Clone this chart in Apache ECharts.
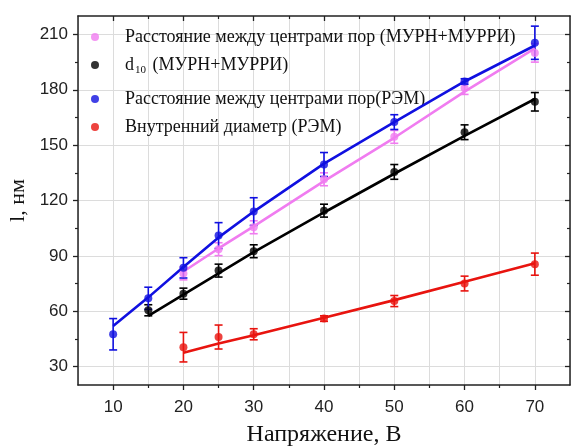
<!DOCTYPE html>
<html>
<head>
<meta charset="utf-8">
<script src="https://cdn.jsdelivr.net/npm/echarts@6/dist/echarts.min.js"></script>
<style>html,body{margin:0;padding:0;background:#fff}#c{width:576px;height:446px}</style>
</head>
<body>
<div id="c"></div>
<script>
// ---- data ----
const namePink  = 'Расстояние между центрами пор (МУРН+МУРРИ)';
const nameBlack = 'd10 (МУРН+МУРРИ)';
const nameBlue  = 'Расстояние между центрами пор(РЭМ)';
const nameRed   = 'Внутренний диаметр (РЭМ)';

const xPink   = [20, 25, 30, 40, 50, 60, 70];
const yPink   = [80.5, 93.6, 105.5, 131.5, 154.5, 181, 200];
const ePink   = [3.5, 3.5, 3.5, 3.5, 3.5, 3.5, 5];
const fitPink = [81.5, 94, 106, 130.5, 154, 179, 202.5];

const xBlack   = [15, 20, 25, 30, 40, 50, 60, 70];
const yBlack   = [60.5, 69.5, 82, 92.5, 114.5, 135.5, 157, 173.5];
const eBlack   = [3, 3, 3.5, 3.5, 3.5, 4, 4, 5];
const fitBlack = [57.5, 69, 80.5, 92, 113.5, 134.5, 155, 175];

const xBlue   = [10, 15, 20, 25, 30, 40, 50, 60, 70];
const yBlue   = [47.5, 67, 83.5, 101, 114, 139.5, 162.5, 184.5, 205.5];
const eBlue   = [8.5, 6, 5.5, 7, 7.5, 6.5, 4, 1.5, 9];
const fitBlue = [52, 67.5, 84, 100, 114, 140, 162.5, 184.5, 204];

const xRed   = [20, 25, 30, 40, 50, 60, 70];
const yRed   = [40.5, 46, 47.5, 56, 65.5, 75, 85.5];
const eRed   = [8, 6.5, 3, 1.5, 3, 4, 6];
const fitRed = [37.5, 42.5, 47, 56.5, 66, 76, 86];

const xMajor = [10, 20, 30, 40, 50, 60, 70];
const xMinor = [15, 25, 35, 45, 55, 65];
const yMajor = [30, 60, 90, 120, 150, 180, 210];
const yMinor = [45, 75, 105, 135, 165, 195];

// ---- build ----
const colPink = '#f07cf0', colBlack = '#000000', colBlue = '#1010e0', colRed = '#e8140f';
const serif = '"Liberation Serif","Times New Roman",serif';
const sans = '"Liberation Sans",Arial,sans-serif';
const G = {left: 78, right: 6, top: 16, bottom: 61, containLabel: false, outerBoundsMode: 'none'};
const lineC = '#222';

function pts(xs, ys) { return xs.map((x, i) => [x, ys[i]]); }
function errs(xs, ys, es) { return xs.map((x, i) => [x, ys[i] - es[i], ys[i] + es[i]]); }

function errSeries(name, xs, ys, es, color) {
  return {
    type: 'custom', name: name, xAxisIndex: 0, yAxisIndex: 0,
    data: errs(xs, ys, es), z: 3,
    renderItem: function (params, api) {
      const x = api.value(0);
      const lo = api.coord([x, api.value(1)]);
      const hi = api.coord([x, api.value(2)]);
      const w = 4;
      const st = {stroke: color, lineWidth: 1.6};
      return {type: 'group', children: [
        {type: 'line', shape: {x1: lo[0], y1: lo[1], x2: hi[0], y2: hi[1]}, style: st},
        {type: 'line', shape: {x1: lo[0] - w, y1: lo[1], x2: lo[0] + w, y2: lo[1]}, style: st},
        {type: 'line', shape: {x1: hi[0] - w, y1: hi[1], x2: hi[0] + w, y2: hi[1]}, style: st}
      ]};
    },
    silent: true
  };
}
function fitSeries(name, xs, ys, color) {
  return {type: 'line', name: name + ' fit', data: pts(xs, ys), showSymbol: false, symbol: 'none',
    lineStyle: {color: color, width: 2.6}, itemStyle: {color: color}, z: 4, silent: true};
}
function dotSeries(name, xs, ys, color) {
  return {type: 'scatter', name: name, data: pts(xs, ys), symbol: 'circle', symbolSize: 8,
    itemStyle: {color: color}, z: 5};
}

const legendNames = [namePink, nameBlack, nameBlue, nameRed];
const legendTops = [23, 51, 85, 113];

const option = {
  animation: false,
  backgroundColor: '#fff',
  grid: [G, G, G].map(g => Object.assign({}, g)),
  xAxis: [
    {gridIndex: 0, type: 'value', position: 'bottom', min: 5, max: 75, interval: 5,
      axisLine: {show: true, lineStyle: {color: lineC, width: 1.5}},
      axisTick: {show: false}, axisLabel: {show: false},
      splitLine: {show: true, lineStyle: {color: '#dcdcdc', width: 1}},
      name: 'Напряжение, В', nameLocation: 'middle', nameGap: 38,
      nameTextStyle: {fontFamily: serif, fontSize: 24, color: '#111'}},
    {gridIndex: 0, type: 'value', position: 'top', min: 5, max: 75, interval: 5,
      axisLine: {show: true, onZero: false, lineStyle: {color: lineC, width: 1.5}},
      axisTick: {show: true, inside: true, length: 5, customValues: xMajor, lineStyle: {color: lineC, width: 1.3}},
      axisLabel: {show: false}, splitLine: {show: false}},
    {gridIndex: 1, type: 'value', position: 'bottom', min: 5, max: 75, interval: 5,
      axisLine: {show: false},
      axisTick: {show: true, inside: false, length: 5, customValues: xMajor, lineStyle: {color: lineC, width: 1.3}},
      axisLabel: {show: true, customValues: xMajor, margin: 14, fontFamily: sans, fontSize: 17, color: '#222'},
      splitLine: {show: false}},
    {gridIndex: 1, type: 'value', position: 'top', min: 5, max: 75, interval: 5,
      axisLine: {show: false},
      axisTick: {show: true, inside: true, length: 3, customValues: xMinor, lineStyle: {color: lineC, width: 1.2}},
      axisLabel: {show: false}, splitLine: {show: false}},
    {gridIndex: 2, type: 'value', position: 'bottom', min: 5, max: 75, interval: 5,
      axisLine: {show: false},
      axisTick: {show: true, inside: false, length: 3, customValues: xMinor, lineStyle: {color: lineC, width: 1.2}},
      axisLabel: {show: false}, splitLine: {show: false}}
  ],
  yAxis: [
    {gridIndex: 0, type: 'value', position: 'left', min: 20, max: 220,
      axisLine: {show: true, onZero: false, lineStyle: {color: lineC, width: 1.5}},
      axisTick: {show: true, inside: false, length: 5, customValues: yMajor, lineStyle: {color: lineC, width: 1.3}},
      axisLabel: {show: true, customValues: yMajor, margin: 10, fontFamily: sans, fontSize: 17, color: '#222'},
      splitLine: {show: true, lineStyle: {color: '#dcdcdc', width: 1}},
      name: 'l, нм', nameLocation: 'middle', nameGap: 44, nameRotate: 90,
      nameTextStyle: {fontFamily: serif, fontSize: 22, color: '#111'}},
    {gridIndex: 0, type: 'value', position: 'right', min: 20, max: 220,
      axisLine: {show: true, onZero: false, lineStyle: {color: lineC, width: 1.5}},
      axisTick: {show: true, inside: true, length: 5, customValues: yMajor, lineStyle: {color: lineC, width: 1.3}},
      axisLabel: {show: false}, splitLine: {show: false}},
    {gridIndex: 1, type: 'value', position: 'left', min: 20, max: 220,
      axisLine: {show: false},
      axisTick: {show: true, inside: false, length: 3, customValues: yMinor, lineStyle: {color: lineC, width: 1.2}},
      axisLabel: {show: false}, splitLine: {show: false}},
    {gridIndex: 1, type: 'value', position: 'right', min: 20, max: 220,
      axisLine: {show: false},
      axisTick: {show: true, inside: true, length: 3, customValues: yMinor, lineStyle: {color: lineC, width: 1.2}},
      axisLabel: {show: false}, splitLine: {show: false}},
    {gridIndex: 2, type: 'value', min: 20, max: 220, show: false}
  ],
  legend: legendNames.map((n, i) => ({
    data: [{name: n, icon: 'circle'}],
    left: 86, top: legendTops[i], padding: 5,
    itemWidth: 50, itemHeight: 8, selectedMode: false,
    formatter: function (name) {
      if (name === nameBlack) return '{n|d}{s|10}{n| (МУРН+МУРРИ)}';
      return '{n|' + name + '}';
    },
    textStyle: {fontFamily: serif, fontSize: 18, color: '#111',
      rich: {n: {fontFamily: serif, fontSize: 18, color: '#111'},
             s: {fontFamily: serif, fontSize: 11, color: '#111', padding: [11, 2, 0, 1]}}}
  })),
  series: [
    fitSeries(nameRed, xRed, fitRed, colRed),
    fitSeries(nameBlack, xBlack, fitBlack, colBlack),
    fitSeries(namePink, xPink, fitPink, colPink),
    fitSeries(nameBlue, xBlue, fitBlue, colBlue),
    errSeries(nameRed + ' err', xRed, yRed, eRed, colRed),
    errSeries(nameBlack + ' err', xBlack, yBlack, eBlack, colBlack),
    errSeries(namePink + ' err', xPink, yPink, ePink, colPink),
    errSeries(nameBlue + ' err', xBlue, yBlue, eBlue, colBlue),
    dotSeries(namePink, xPink, yPink, colPink),
    dotSeries(nameBlack, xBlack, yBlack, colBlack),
    dotSeries(nameBlue, xBlue, yBlue, colBlue),
    dotSeries(nameRed, xRed, yRed, colRed)
  ]
};
const chart = echarts.init(document.getElementById('c'), null, {renderer: 'canvas'});
chart.setOption(option);
</script>
</body>
</html>
